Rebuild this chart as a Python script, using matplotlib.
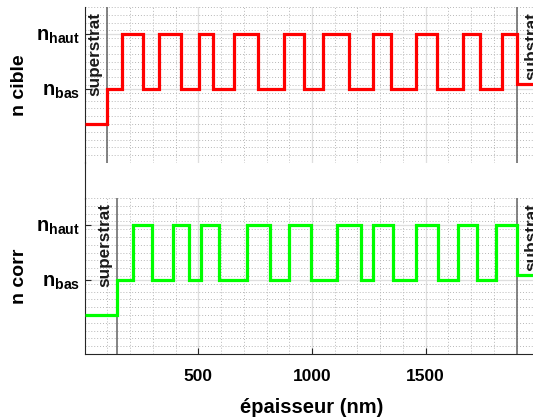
import matplotlib
matplotlib.use("Agg")
import matplotlib.pyplot as plt
from matplotlib.lines import Line2D
from matplotlib.ticker import MultipleLocator

plt.rcParams['font.family'] = ['Liberation Sans', 'DejaVu Sans']
plt.rcParams['mathtext.fontset'] = 'custom'
plt.rcParams['mathtext.rm'] = 'Liberation Sans:bold'
plt.rcParams['mathtext.bf'] = 'Liberation Sans:bold'
plt.rcParams['mathtext.it'] = 'Liberation Sans:bold'
plt.rcParams['mathtext.default'] = 'bf'

# ---- data ----
n_sup = 1.0
n_bas = 1.45
n_haut = 2.15
n_sub = 1.51

# boundaries (nm) between superstrat / layers / substrat
bounds_cible = [97.2, 164.5, 255.5, 325.9, 423.9, 503.1, 566.0, 657.0, 763.9,
                876.9, 963.5, 1047.0, 1164.0, 1269.6, 1346.1, 1456.0, 1548.4,
                1662.7, 1738.8, 1834.2, 1900.2]
bounds_corr = [141.2, 214.2, 297.7, 390.1, 459.1, 511.9, 591.0, 712.8, 815.3,
               900.2, 995.6, 1111.3, 1214.2, 1269.6, 1357.5, 1457.3, 1555.4,
               1640.7, 1724.3, 1809.2, 1900.2]
x_min, x_max = 0, 2000
y_min, y_max = 0.5, 2.5
xticks = [500, 1000, 1500]
ytick_vals = [n_bas, n_haut]
ytick_labels = [r'$\mathbf{n_{bas}}$', r'$\mathbf{n_{haut}}$']


def profile(bounds):
    edges = [x_min] + bounds + [x_max]
    nlayers = len(bounds) - 1
    vals = [n_sup] + [n_bas if i % 2 == 0 else n_haut for i in range(nlayers)] + [n_sub]
    return vals, edges


W, H = 533, 419
fig = plt.figure(figsize=(W / 100, H / 100), dpi=100)
left = 84.6 / W
width = (x_max - x_min) * 0.2274 / W
ax_h = 156 / H
ax1 = fig.add_axes([left, 1 - 163 / H, width, ax_h])
ax2 = fig.add_axes([left, 1 - 354 / H, width, ax_h])

for ax, bounds, color, ylab in [(ax1, bounds_cible, '#ff0000', 'n cible'),
                                 (ax2, bounds_corr, '#00ff00', 'n corr')]:
    ax.set_xlim(x_min, x_max)
    ax.set_ylim(y_min, y_max)
    ax.set_xticks(xticks)
    ax.xaxis.set_minor_locator(MultipleLocator(100))
    ax.set_yticks(ytick_vals)
    ax.set_yticklabels(ytick_labels)
    ax.yaxis.set_minor_locator(MultipleLocator(0.1))
    ax.grid(True, which='major', color='#dedede', lw=0.9, ls='-')
    ax.grid(True, which='minor', color='#b8b8b8', lw=0.7, ls=(0, (1, 2)))
    ax.set_axisbelow(True)
    ax.tick_params(which='major', direction='in', length=4, width=0.8,
                   pad=4, color='#262626')
    ax.tick_params(axis='y', labelsize=14.5, pad=3)
    ax.tick_params(axis='x', labelsize=12.5, pad=11)
    ax.tick_params(which='minor', length=0)
    for lbl in ax.get_xticklabels():
        lbl.set_fontweight('bold')
    ax.spines['top'].set_visible(False)
    ax.spines['right'].set_visible(False)
    ax.spines['left'].set_color('#262626')
    ax.spines['bottom'].set_color('#262626')

    vals, edges = profile(bounds)
    ax.stairs(vals, edges, baseline=None, color=color, lw=2.3, zorder=3)

    xs, xe = bounds[0], bounds[-1]
    ax.axvline(xs, color='#6e6e6e', lw=1.2, zorder=2)
    ax.axvline(xe, color='#6e6e6e', lw=1.2, zorder=2)
    ax.annotate('superstrat', xy=(xs, y_max), xytext=(-4, -5),
                textcoords='offset pixels', rotation=90, ha='right', va='top',
                fontsize=12.3, fontweight='bold', color='#1a1a1a')
    ax.annotate('substrat', xy=(xe, y_max), xytext=(8, -5),
                textcoords='offset pixels', rotation=90, ha='left', va='top',
                fontsize=12.3, fontweight='bold', color='#1a1a1a')
    bb = ax.get_position()
    fig.text(19 / W, (bb.y0 + bb.y1) / 2, ylab, rotation=90, ha='center',
             va='center', fontsize=14, fontweight='bold')

ax1.spines['bottom'].set_visible(False)
ax1.tick_params(axis='x', which='both', bottom=False, labelbottom=False)

# left axis line continuing through the gap between the panels
fig.add_artist(Line2D([left, left], [1 - 199 / H, 1 - 162 / H],
                      transform=fig.transFigure, color='#262626', lw=0.8))

fig.text(311.5 / W, 1 - 407 / H, 'épaisseur (nm)', ha='center', va='center',
         fontsize=14.5, fontweight='bold')

fig.savefig('out.png', dpi=100)
